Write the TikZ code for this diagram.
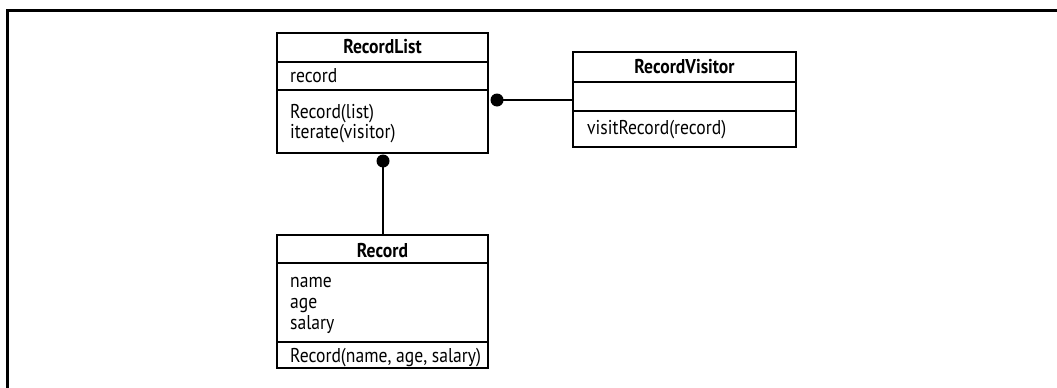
\documentclass[tikz,border=0pt]{standalone}
\usepackage{fontspec}
\setmainfont{PT Sans}[FakeStretch=0.88]
\begin{document}
\begin{tikzpicture}[x=1pt,y=-1pt,
  box/.style={draw, line width=2.7pt, inner sep=0pt, outer sep=0pt, anchor=north west},
  divline/.style={line width=2.7pt},
  conn/.style={line width=2.7pt},
  txt/.style={anchor=base west, inner sep=0pt, font=\fontsize{20}{21}\selectfont},
  ttl/.style={anchor=base, inner sep=0pt, font=\fontsize{20}{21}\selectfont\bfseries},
  dot/.style={circle, fill=black, inner sep=0pt, minimum size=13pt}]
\useasboundingbox (0,0) rectangle (1057,388);
% frame
\draw[line width=3pt] (7,388) -- (7,10) -- (1057,10);
% RecordList
\node[box, minimum width=211pt, minimum height=120pt] (rl) at (277,33) {};
\draw[divline] (277,62) -- (488,62);
\draw[divline] (277,90) -- (488,90);
\node[ttl] (rlt) at (382.5,53) {RecordList};
\node[txt] (rla) at (290,82) {record};
\node[txt] (rlm1) at (290,118) {Record(list)};
\node[txt] (rlm2) at (290,138) {iterate(visitor)};
% RecordVisitor
\node[box, minimum width=223pt, minimum height=95pt] (rv) at (573,52) {};
\draw[divline] (573,82) -- (796,82);
\draw[divline] (573,111) -- (796,111);
\node[ttl] (rvt) at (684.5,73) {RecordVisitor};
\node[txt] (rvm) at (587,134) {visitRecord(record)};
% Record
\node[box, minimum width=211pt, minimum height=133pt] (rec) at (277,235) {};
\draw[divline] (277,263) -- (488,263);
\draw[divline] (277,342) -- (488,342);
\node[ttl] (rect) at (382.5,257) {Record};
\node[txt] (reca1) at (290,287) {name};
\node[txt] (reca2) at (290,308) {age};
\node[txt] (reca3) at (290,329) {salary};
\node[txt] (recm) at (290,362) {Record(name, age, salary)};
% connectors
\node[dot] (d1) at (497,100) {};
\node[dot] (d2) at (383,161) {};
\draw[conn] (d1.center) -- (d1 -| rv.west);
\draw[conn] (d2.center) -- (d2 |- rec.north);
\end{tikzpicture}
\end{document}
